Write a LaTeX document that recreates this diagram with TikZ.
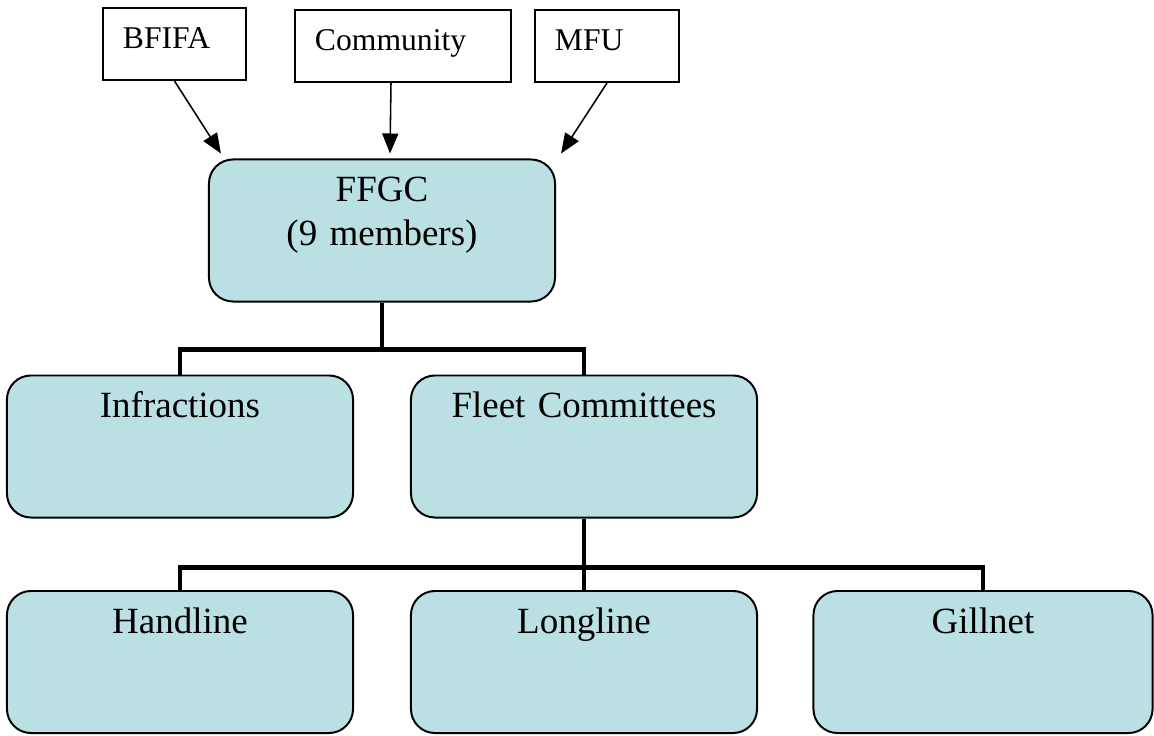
\documentclass[tikz,border=0pt]{standalone}
\usepackage{fontspec}
\setmainfont{Liberation Serif}
\usetikzlibrary{arrows.meta}
\definecolor{boxblue}{RGB}{186,224,227}
\tikzset{
	orgbox/.style={draw, line width=1.4pt, fill=boxblue, rounded corners=0.6cm, text width=#1, align=center, inner xsep=0pt, inner ysep=0pt, text height=1.05cm, text depth=2.5cm, font=\fontsize{26.3pt}{31.3pt}\selectfont},
	orgbox/.default=8.65cm,
	srcbox/.style={draw, line width=1.4pt, fill=white, text width=#1, align=left, inner xsep=0.5cm, inner ysep=0pt, text height=1.025cm, text depth=0.775cm, font=\fontsize{22.5pt}{27pt}\selectfont},
	feedarrow/.style={line width=1.1pt, -{Triangle[length=0.5cm,width=0.4cm]}},
	branchline/.style={line width=3.5pt}
}
\begin{document}
\begin{tikzpicture}[x=0.025cm, y=-0.025cm]
\useasboundingbox (0,0) rectangle (1154,735);

%sources
\node[srcbox=2.575cm] (bfifa) at (174.5,44) {BFIFA};
\node[srcbox=4.4cm] (community) at (403,46) {Community};
\node[srcbox=2.6cm] (mfu) at (607,46) {MFU};

%committee
\node[orgbox] (ffgc) at (382,230.5) {FFGC\\(9 members)};

%sub committees
\node[orgbox] (infractions) at (180,446.5) {Infractions};
\node[orgbox] (fleet) at (584,446.5) {Fleet Committees};

%fleets
\node[orgbox] (handline) at (180,662) {Handline};
\node[orgbox] (longline) at (584,662) {Longline};
\node[orgbox=8.475cm] (gillnet) at (983,662) {Gillnet};

%arrows in
\draw[feedarrow] (bfifa.south) -- ([shift={(13,-5)}]ffgc.north west);
\draw[feedarrow] ([xshift=-0.3cm]community.south) -- ([shift={(8,-5)}]ffgc.north);
\draw[feedarrow] (mfu.south) -- ([shift={(5,-5)}]ffgc.north east);

%branches
\draw[branchline] (ffgc.south) -- ++(0,47) -| (infractions.north);
\draw[branchline] (ffgc.south) -- ++(0,47) -| (fleet.north);
\draw[branchline] (fleet.south) -- ++(0,49) -| (handline.north);
\draw[branchline] (fleet.south) -- ++(0,49) -| (longline.north);
\draw[branchline] (fleet.south) -- ++(0,49) -| (gillnet.north);

\end{tikzpicture}
\end{document}
